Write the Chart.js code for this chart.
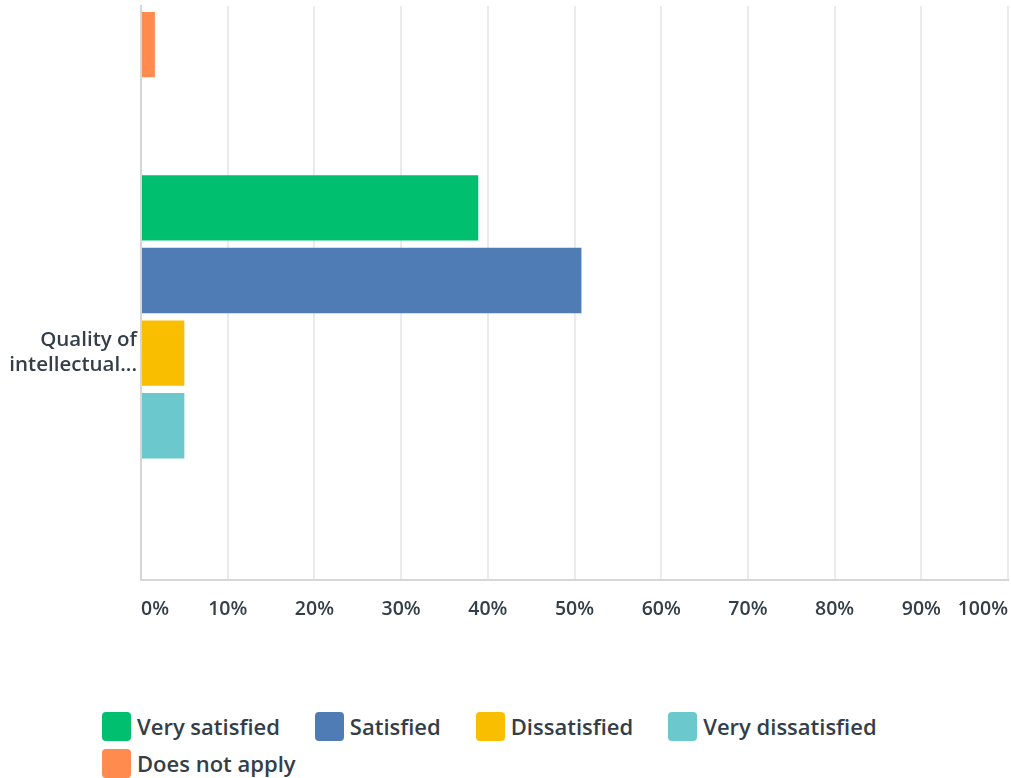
<!DOCTYPE html>
<html>
<head>
<meta charset="utf-8">
<title>Quality of intellectual...</title>
<script src="https://cdn.jsdelivr.net/npm/chart.js@4.4.1/dist/chart.umd.min.js"></script>
<style>
    body { margin: 0; background: #fff; font-family: "Open Sans", sans-serif; }
    #wrap { position: relative; width: 1011px; height: 778px; overflow: hidden; }
    #chartBox { position: absolute; left: 0; top: 0; width: 1011px; height: 640px; }
    #legend { position: absolute; left: 102px; top: 712px; width: 820px; display: flex; flex-wrap: wrap; row-gap: 8px; column-gap: 35px; }
    .item { display: flex; align-items: center; font: 600 22px "Open Sans", sans-serif; color: #333e48; line-height: 29px; }
    .swatch { width: 29px; height: 29px; border-radius: 4px; margin-right: 6px; }
</style>
</head>
<body>
<div id="wrap">
    <div id="chartBox"><canvas id="chart"></canvas></div>
    <div id="legend"></div>
</div>
<script>
// rows of the chart; the first row is scrolled off the top, only its last bar shows
const rowLabels = ['', ['Quality of', 'intellectual...']];

const seriesNames = ['Very satisfied', 'Satisfied', 'Dissatisfied', 'Very dissatisfied', 'Does not apply'];
const verySatisfied = [null, 38.9];
const satisfied = [null, 50.8];
const dissatisfied = [null, 5.0];
const veryDissatisfied = [null, 5.0];
const doesNotApply = [1.6, 0];

const xTickValues = [0, 10, 20, 30, 40, 50, 60, 70, 80, 90, 100];

const seriesColors = ['#00bf6f', '#507cb6', '#f9be00', '#6bc8cd', '#ff8b4f'];
const textColor = '#333e48';

const seriesValues = [verySatisfied, satisfied, dissatisfied, veryDissatisfied, doesNotApply];

const datasets = seriesNames.map((name, i) => ({
    label: name,
    data: seriesValues[i].map((v, row) => ({ y: row, x: v })),
    backgroundColor: seriesColors[i],
    borderWidth: 0,
    categoryPercentage: 0.8,
    barPercentage: 0.9
}));

new Chart(document.getElementById('chart'), {
    type: 'bar',
    data: { datasets: datasets },
    options: {
        indexAxis: 'y',
        responsive: true,
        maintainAspectRatio: false,
        animation: false,
        layout: { padding: { top: 6, right: 3 } },
        plugins: {
            legend: { display: false },
            tooltip: { enabled: false }
        },
        scales: {
            x: {
                type: 'linear',
                position: 'bottom',
                min: 0,
                max: 100,
                afterBuildTicks: scale => { scale.ticks = xTickValues.map(v => ({ value: v })); },
                afterFit: scale => { scale.height = 60; scale.paddingLeft = 0; scale.paddingRight = 0; },
                grid: { color: '#ebebeb', lineWidth: 2, drawTicks: false },
                border: { color: '#d6d6d6', width: 2 },
                ticks: {
                    align: 'inner',
                    padding: 18,
                    color: textColor,
                    font: { family: 'Open Sans', size: 19.5, weight: '600' },
                    callback: v => v + '%'
                }
            },
            y: {
                type: 'linear',
                reverse: true,
                offset: false,
                min: 0.235,
                max: 1.5,
                afterBuildTicks: scale => { scale.ticks = rowLabels.map((_, i) => ({ value: i })); },
                afterFit: scale => { scale.width = 141; scale.paddingTop = 0; scale.paddingBottom = 0; },
                grid: { display: false, drawTicks: false },
                border: { color: '#d6d6d6', width: 2 },
                ticks: {
                    padding: 4,
                    color: textColor,
                    font: { family: 'Open Sans', size: 20.5, weight: '600', lineHeight: 1.22 },
                    callback: v => rowLabels[v]
                }
            }
        }
    }
});

// html legend, wrapped like the original
const legend = document.getElementById('legend');
seriesNames.forEach((name, i) => {
    const item = document.createElement('div');
    item.className = 'item';
    item.innerHTML = '<span class="swatch" style="background:' + seriesColors[i] + '"></span>' + name;
    legend.appendChild(item);
});
</script>
</body>
</html>
